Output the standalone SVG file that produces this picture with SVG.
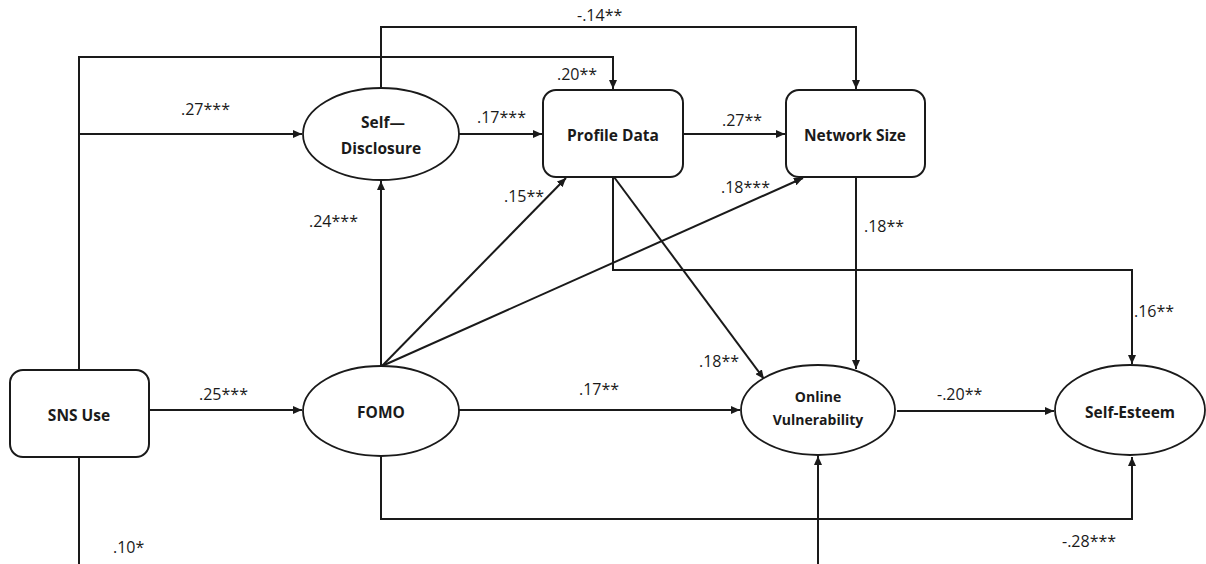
<svg xmlns="http://www.w3.org/2000/svg" width="1206" height="564" viewBox="0 0 1206 564">
<style>
.box{fill:#fff;stroke:#1a1a1a;stroke-width:2}
.ell{fill:#fff;stroke:#1a1a1a;stroke-width:1.8}
.nt{font-family:"Open Sans","Liberation Sans",sans-serif;font-weight:bold;font-size:15.5px;fill:#1a1a1a;text-anchor:middle}
.nts{font-family:"Open Sans","Liberation Sans",sans-serif;font-weight:bold;font-size:14px;fill:#1a1a1a;text-anchor:middle}
.lb{font-family:"Open Sans","Liberation Sans",sans-serif;font-size:16px;fill:#1a1a1a}
.c{fill:none;stroke:#1a1a1a;stroke-width:2}
.a{marker-end:url(#ah)}
</style>
<defs>
<marker id="ah" markerUnits="userSpaceOnUse" markerWidth="10" markerHeight="8" refX="9" refY="4" orient="auto">
<path d="M0,0 L9,4 L0,8 Z" fill="#1a1a1a"/>
</marker>
</defs>
<rect width="1206" height="564" fill="#fff"/>
<g id="connectors">
<path class="c a" d="M79,370 V57 H613 V89"/>
<path class="c" d="M79,457 V564"/>
<path class="c a" d="M79,134 H302"/>
<path class="c a" d="M381,88 V27 H856 V89"/>
<path class="c a" d="M459,134 H542"/>
<path class="c a" d="M683,134 H785"/>
<path class="c a" d="M149,410 H302"/>
<path class="c a" d="M381,366 V181"/>
<path class="c a" d="M382,366 L566,178"/>
<path class="c a" d="M382,366 L803,178"/>
<path class="c a" d="M613,177 V270 H1132 V364"/>
<path class="c a" d="M614,177 L764,379"/>
<path class="c a" d="M856,177 V369"/>
<path class="c a" d="M459,410 H740"/>
<path class="c a" d="M897,411 H1054"/>
<path class="c a" d="M381,456 V519 H1132 V457"/>
<path class="c a" d="M818,564 V456"/>
</g>
<g id="sns-use">
<rect class="box" x="10" y="370" width="139" height="87" rx="13"/>
<text class="nt" x="79" y="421">SNS Use</text>
</g>
<g id="self-disclosure">
<ellipse class="ell" cx="381" cy="134" rx="78" ry="46"/>
<text class="nt" x="383" y="128">Self—</text>
<text class="nt" x="381" y="154">Disclosure</text>
</g>
<g id="profile-data">
<rect class="box" x="543" y="90" width="140" height="87" rx="13"/>
<text class="nt" x="613" y="141">Profile Data</text>
</g>
<g id="network-size">
<rect class="box" x="786" y="90" width="139" height="87" rx="13"/>
<text class="nt" x="855" y="141">Network Size</text>
</g>
<g id="fomo">
<ellipse class="ell" cx="381" cy="411" rx="78" ry="45"/>
<text class="nt" x="381" y="418">FOMO</text>
</g>
<g id="online-vulnerability">
<ellipse class="ell" cx="818" cy="410" rx="77" ry="45"/>
<text class="nts" x="818" y="402">Online</text>
<text class="nts" x="818" y="425">Vulnerability</text>
</g>
<g id="self-esteem">
<ellipse class="ell" cx="1130" cy="410" rx="75" ry="45"/>
<text class="nt" x="1130" y="418">Self-Esteem</text>
</g>
<g id="labels">
<text class="lb" x="577" y="21">-.14**</text>
<text class="lb" x="181" y="115">.27***</text>
<text class="lb" x="557" y="80">.20**</text>
<text class="lb" x="477" y="123">.17***</text>
<text class="lb" x="722" y="126">.27**</text>
<text class="lb" x="504" y="202">.15**</text>
<text class="lb" x="721" y="193">.18***</text>
<text class="lb" x="309" y="227">.24***</text>
<text class="lb" x="864" y="232">.18**</text>
<text class="lb" x="1134" y="317">.16**</text>
<text class="lb" x="199" y="400">.25***</text>
<text class="lb" x="579" y="395">.17**</text>
<text class="lb" x="699" y="367">.18**</text>
<text class="lb" x="937" y="400">-.20**</text>
<text class="lb" x="1062" y="547">-.28***</text>
<text class="lb" x="113" y="553">.10*</text>
</g>
</svg>
